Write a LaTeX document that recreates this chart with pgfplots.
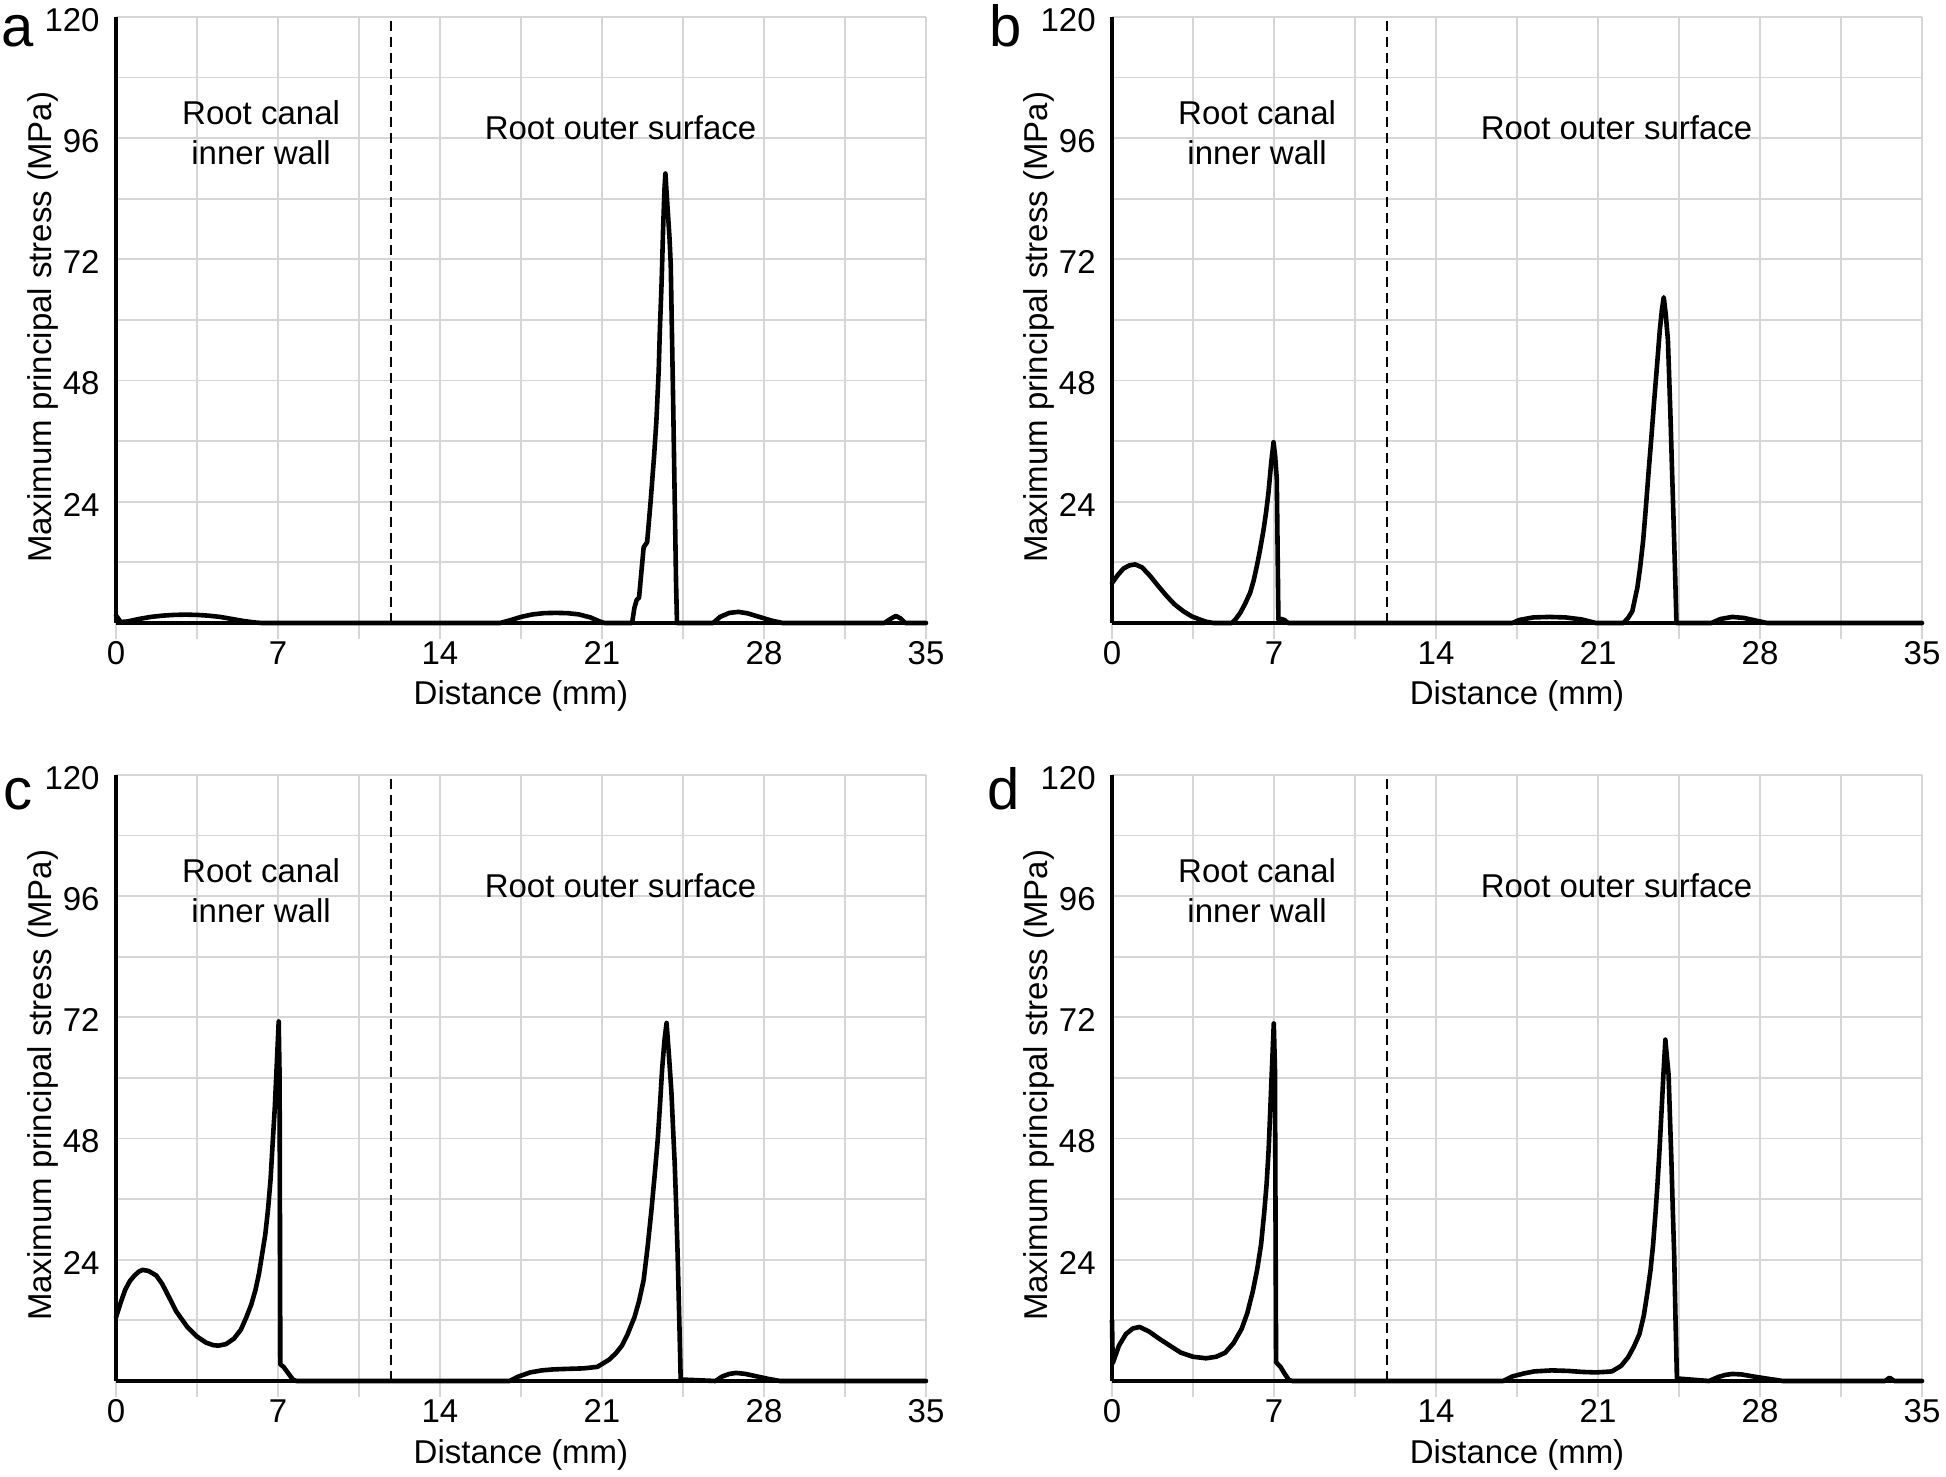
\documentclass[border=0pt]{standalone}
\usepackage{fontspec}
\setmainfont{Liberation Sans}
\usepackage{pgfplots}
\pgfplotsset{compat=1.18}
\definecolor{gridgray}{RGB}{214,214,214}
\newcommand{\lbl}{\fontsize{16.5}{20}\selectfont}
\pgfplotsset{
  panel/.style={
    width=405pt, height=303pt, scale only axis, anchor=south west,
    xmin=0, xmax=35, ymin=0, ymax=120, clip=false,
    axis x line=bottom, axis y line=left,
    axis line style={-, line width=2.1pt, black},
    xtick={0,3.5,...,35}, xticklabels={0,,7,,14,,21,,28,,35},
    ytick={0,12,...,120}, yticklabels={,,24,,48,,72,,96,,120},
    grid=major,
    major grid style={gridgray, line width=0.9pt},
    tick align=outside, major tick length=8pt,
    xtick style={draw=gridgray, line width=0.9pt},
    ytick style={draw=none},
    /pgf/number format/assume math mode=true,
    xticklabel style={font=\lbl, inner sep=0pt, anchor=north, yshift=-1pt},
    yticklabel style={font=\lbl, inner sep=0pt, anchor=east, xshift=0pt, yshift=-1.5pt},
    xlabel={Distance (mm)},
    ylabel={Maximum principal stress (MPa)},
    x label style={at={(axis description cs:0.5,0)}, anchor=base, yshift=-41pt, font=\lbl},
    y label style={at={(axis description cs:-0.0901,0.488)}, anchor=center, font=\lbl},
  },
  curve/.style={black, line width=2.3pt, line join=round, line cap=round},
  divider/.style={black, line width=1pt, dash pattern=on 5pt off 3pt},
}
\newcommand{\annot}{%
  \addplot[divider] coordinates {(11.9,0) (11.9,120)};
  \node[font=\lbl, align=center] at (axis cs:6.27,97.1) {Root canal\\inner wall};
  \node[font=\lbl] at (axis cs:21.8,98.0) {Root outer surface};
}
\begin{document}
\begin{tikzpicture}[x=1pt,y=1pt]
% panel a
\begin{axis}[panel, at={(58pt,426.5pt)}]
\annot
\addplot[curve] coordinates {
(0,1.5) (0.2,0.2) (0.5,0.3) (1,0.8) (1.5,1.2) (2,1.45) (2.5,1.6) (3,1.65) (3.5,1.6) (4,1.45) (4.5,1.2) (5,0.8) (5.5,0.4) (6,0.1) (6.3,0)
(16.6,0) (17,0.5) (17.5,1.2) (18,1.7) (18.5,1.95) (19,2.0) (19.5,1.95) (20,1.7) (20.5,1.1) (20.9,0.3) (21.1,0)
(22.3,0) (22.4,3) (22.5,4.6) (22.6,5) (22.7,10) (22.8,15) (22.95,16) (23.1,24) (23.25,33) (23.35,40) (23.45,50) (23.5,58) (23.58,68) (23.64,78) (23.7,86) (23.74,89) (23.78,86) (23.85,81) (23.92,76) (23.97,71) (24.02,58) (24.07,45) (24.14,25) (24.2,8) (24.24,0)
(25.8,0) (26.1,1.2) (26.5,2.0) (26.9,2.2) (27.3,1.9) (27.8,1.2) (28.3,0.5) (28.8,0)
(33.2,0) (33.5,0.9) (33.7,1.4) (33.9,0.9) (34.1,0) (35,0)};
\end{axis}
% panel b
\begin{axis}[panel, at={(556pt,426.5pt)}]
\annot
\addplot[curve] coordinates {
(0,7.9) (0.25,9.5) (0.5,10.8) (0.75,11.4) (1.0,11.6) (1.3,11.0) (1.65,9.3) (2.0,7.3) (2.37,5.3) (2.7,3.7) (3.09,2.3) (3.45,1.3) (3.81,0.66) (4.1,0.2) (4.4,0)
(5.18,0) (5.35,0.8) (5.54,2.0) (5.75,3.8) (5.97,6.0) (6.12,8.4) (6.26,11.3) (6.4,14.6) (6.55,18.5) (6.66,22) (6.76,25.8) (6.88,31.8) (6.98,35.8) (7.05,33) (7.12,28.5) (7.19,0.7) (7.3,0.8) (7.45,0.6) (7.6,0)
(17.3,0) (17.6,0.6) (18.2,1.1) (18.9,1.2) (19.6,1.1) (20.3,0.7) (20.9,0)
(22.1,0) (22.3,1.0) (22.48,2.3) (22.7,7) (22.82,11) (22.95,16.3) (23.07,23) (23.19,30.2) (23.31,37) (23.43,44.2) (23.55,51) (23.67,58) (23.76,62) (23.84,64.5) (23.93,61) (24.02,56) (24.08,48) (24.14,39.5) (24.2,30) (24.26,21) (24.33,10) (24.39,0)
(25.9,0) (26.3,0.8) (26.8,1.2) (27.3,1.0) (27.8,0.5) (28.3,0) (35,0)};
\end{axis}
% panel c
\begin{axis}[panel, at={(58pt,47.5pt)}]
\annot
\addplot[curve] coordinates {
(0,12.6) (0.2,15.5) (0.4,18.1) (0.6,19.8) (0.8,20.9) (1.0,21.7) (1.15,22.0) (1.4,21.8) (1.74,20.9) (2.0,19.2) (2.28,16.7) (2.6,13.8) (3.08,10.7) (3.5,8.8) (3.89,7.6) (4.2,7.1) (4.42,7.0) (4.75,7.3) (5.1,8.4) (5.4,10.2) (5.63,12.6) (5.85,15.2) (6.03,18.1) (6.18,21.3) (6.3,24.7) (6.45,29) (6.57,34) (6.68,40) (6.78,47.9) (6.86,54) (6.92,60) (6.98,66) (7.03,71.2) (7.07,60) (7.1,3.3) (7.24,2.8) (7.4,1.8) (7.64,0.3) (7.8,0)
(17.0,0) (17.4,0.9) (17.9,1.7) (18.4,2.1) (18.9,2.3) (19.5,2.4) (20.2,2.5) (20.8,2.8) (21.3,4.2) (21.6,5.5) (21.86,7) (22.1,9.2) (22.4,12.6) (22.6,15.8) (22.8,20) (22.97,26.5) (23.14,34) (23.28,41) (23.41,47.9) (23.51,55) (23.6,61.9) (23.7,67.5) (23.79,70.9) (23.9,64) (24.0,57.2) (24.07,50) (24.14,43.3) (24.21,34) (24.27,24.7) (24.34,12) (24.4,0.3)
(25.9,0) (26.2,0.9) (26.5,1.4) (26.8,1.6) (27.2,1.4) (27.7,0.9) (28.2,0.4) (28.7,0) (35,0)};
\end{axis}
% panel d
\begin{axis}[panel, at={(556pt,47.5pt)}]
\annot
\addplot[curve] coordinates {
(0,12) (0.03,3.5) (0.3,7) (0.6,9.3) (0.9,10.4) (1.19,10.7) (1.6,9.8) (2.03,8.4) (2.5,7.0) (2.98,5.6) (3.5,4.8) (4.06,4.5) (4.5,4.8) (4.89,5.6) (5.25,7.5) (5.6,10.3) (5.85,13.5) (6.08,17.7) (6.27,22) (6.44,27) (6.57,33) (6.68,39) (6.77,46) (6.85,55) (6.92,63) (6.99,70.8) (7.04,62) (7.09,3.7) (7.28,2.8) (7.45,1.5) (7.64,0.2) (7.8,0)
(16.9,0) (17.3,0.9) (17.8,1.5) (18.25,1.9) (19,2.1) (19.7,2.0) (20.3,1.8) (20.9,1.7) (21.3,1.8) (21.6,1.9) (22.0,3.0) (22.3,4.7) (22.55,6.8) (22.79,9.3) (22.98,13) (23.14,17.7) (23.27,22) (23.38,27) (23.48,33) (23.57,39) (23.66,46) (23.74,53) (23.83,61) (23.91,67.6) (23.98,64) (24.05,60.6) (24.11,52) (24.17,43.8) (24.23,34) (24.29,25.2) (24.35,12) (24.41,0.5)
(25.8,0) (26.2,0.8) (26.5,1.2) (26.8,1.4) (27.2,1.3) (27.7,0.9) (28.4,0.4) (29,0)
(33.4,0) (33.6,0.65) (33.8,0) (35,0)};
\end{axis}
% panel letters
\node[font=\fontsize{29}{31}\selectfont, anchor=base] at (9pt,714.5pt) {a};
\node[font=\fontsize{29}{31}\selectfont, anchor=base] at (503pt,714.5pt) {b};
\node[font=\fontsize{29}{31}\selectfont, anchor=base] at (9pt,333pt) {c};
\node[font=\fontsize{29}{31}\selectfont, anchor=base] at (502pt,333pt) {d};
\pgfresetboundingbox
\path[use as bounding box] (0pt,0pt) rectangle (973pt,738pt);
\end{tikzpicture}
\end{document}
